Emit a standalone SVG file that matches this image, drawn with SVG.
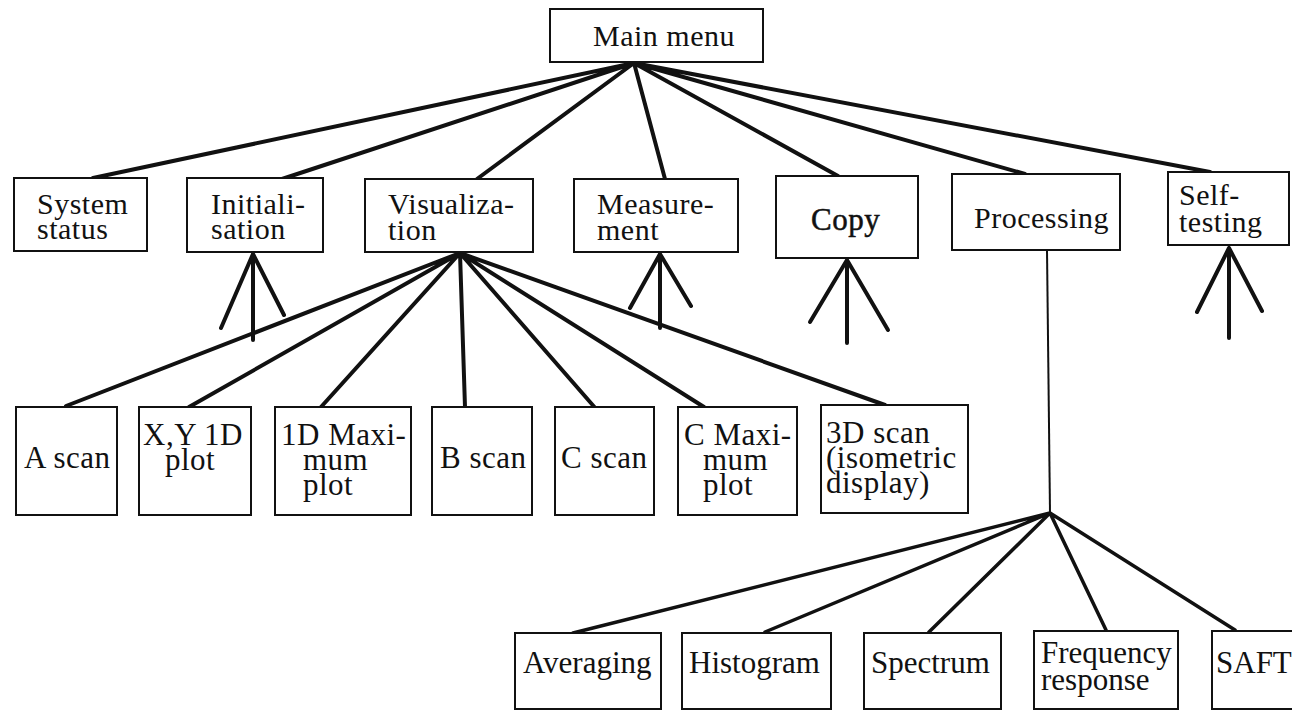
<svg xmlns="http://www.w3.org/2000/svg" width="1292" height="712" viewBox="0 0 1292 712">
<style>
.box{fill:#fff;stroke:#111;stroke-width:2}
.t{font-family:"Liberation Serif","Times New Roman",serif;fill:#111;letter-spacing:0.5px}
.l0{font-size:30px}
.l1{font-size:30px}
.l2{font-size:31px}
.l3{font-size:31px;letter-spacing:0}
.c{stroke:#111;stroke-width:4;stroke-linecap:round;fill:none}
.thin{stroke:#111;stroke-width:2;fill:none}
.mid{stroke:#111;stroke-width:3.5;stroke-linecap:round;fill:none}
</style>
<rect width="1292" height="712" fill="#fff"/>
<g id="connectors">
<path class="c" d="M634 63L93 178M634 63L282 179M634 63L477 179M634 63L665 179M634 63L838 176M634 63L1025 174M634 63L1210 172"/>
<path class="c" d="M460 253L66 406M460 253L189 407M460 253L321 407M460 253L465 407M460 253L597 410M460 253L704 407M460 253L885 405"/>
<path class="thin" d="M1047 250L1050 513"/>
<path class="mid" d="M1050 513L573 633M1050 513L765 632M1050 513L929 632M1050 513L1106 630M1050 513L1235 630"/>
<path class="c" d="M253 254L253 340M253 254L221 328M253 254L284 315"/>
<path class="c" d="M660 254L660 328M660 254L630 308M660 254L691 306"/>
<path class="c" d="M847 260L847 343M847 260L810 322M847 260L888 330"/>
<path class="c" d="M1229 248L1229 338M1229 248L1197 312M1229 248L1262 311"/>
</g>
<g id="main-menu"><rect class="box" x="550" y="9" width="213" height="53"/><text class="t l0" x="593" y="46">Main menu</text></g>
<g id="system-status"><rect class="box" x="14" y="178" width="133" height="73"/><text class="t l1" x="37" y="214">System</text><text class="t l1" x="37" y="239">status</text></g>
<g id="initialisation"><rect class="box" x="187" y="178" width="136" height="74"/><text class="t l1" x="211" y="214">Initiali-</text><text class="t l1" x="211" y="239">sation</text></g>
<g id="visualization"><rect class="box" x="365" y="179" width="168" height="73"/><text class="t l1" x="388" y="214">Visualiza-</text><text class="t l1" x="388" y="240">tion</text></g>
<g id="measurement"><rect class="box" x="574" y="179" width="164" height="73"/><text class="t l1" x="597" y="214">Measure-</text><text class="t l1" x="597" y="240">ment</text></g>
<g id="copy"><rect class="box" x="776" y="176" width="142" height="82"/><text class="t" x="811" y="230" style="font-size:31px;stroke:#111;stroke-width:0.5">Copy</text></g>
<g id="processing"><rect class="box" x="952" y="174" width="168" height="76"/><text class="t l1" x="974" y="228">Processing</text></g>
<g id="self-testing"><rect class="box" x="1168" y="172" width="121" height="73"/><text class="t l1" x="1179" y="205">Self-</text><text class="t l1" x="1179" y="232">testing</text></g>
<g id="a-scan"><rect class="box" x="16" y="407" width="101" height="108"/><text class="t l2" x="24" y="468">A scan</text></g>
<g id="xy-plot"><rect class="box" x="139" y="407" width="112" height="108"/><text class="t l2" x="143" y="445">X,Y 1D</text><text class="t l2" x="165" y="470">plot</text></g>
<g id="1d-max"><rect class="box" x="275" y="407" width="136" height="108"/><text class="t l2" x="281" y="445">1D Maxi-</text><text class="t l2" x="303" y="470">mum</text><text class="t l2" x="303" y="495">plot</text></g>
<g id="b-scan"><rect class="box" x="432" y="407" width="100" height="108"/><text class="t l2" x="440" y="468">B scan</text></g>
<g id="c-scan"><rect class="box" x="555" y="407" width="99" height="108"/><text class="t l2" x="561" y="468">C scan</text></g>
<g id="c-max"><rect class="box" x="678" y="407" width="119" height="108"/><text class="t l2" x="684" y="445">C Maxi-</text><text class="t l2" x="703" y="470">mum</text><text class="t l2" x="703" y="495">plot</text></g>
<g id="3d-scan"><rect class="box" x="821" y="405" width="147" height="108"/><text class="t l2" x="826" y="443">3D scan</text><text class="t l2" x="826" y="468">(isometric</text><text class="t l2" x="826" y="493">display)</text></g>
<g id="averaging"><rect class="box" x="515" y="633" width="146" height="76"/><text class="t l3" x="523" y="673">Averaging</text></g>
<g id="histogram"><rect class="box" x="682" y="633" width="149" height="76"/><text class="t l3" x="689" y="673">Histogram</text></g>
<g id="spectrum"><rect class="box" x="864" y="633" width="137" height="76"/><text class="t l3" x="871" y="673">Spectrum</text></g>
<g id="frequency-response"><rect class="box" x="1034" y="631" width="144" height="78"/><text class="t l3" x="1041" y="663">Frequency</text><text class="t l3" x="1041" y="690">response</text></g>
<g id="saft"><rect class="box" x="1212" y="631" width="84" height="78"/><text class="t l3" x="1216" y="673">SAFT</text></g>
</svg>
